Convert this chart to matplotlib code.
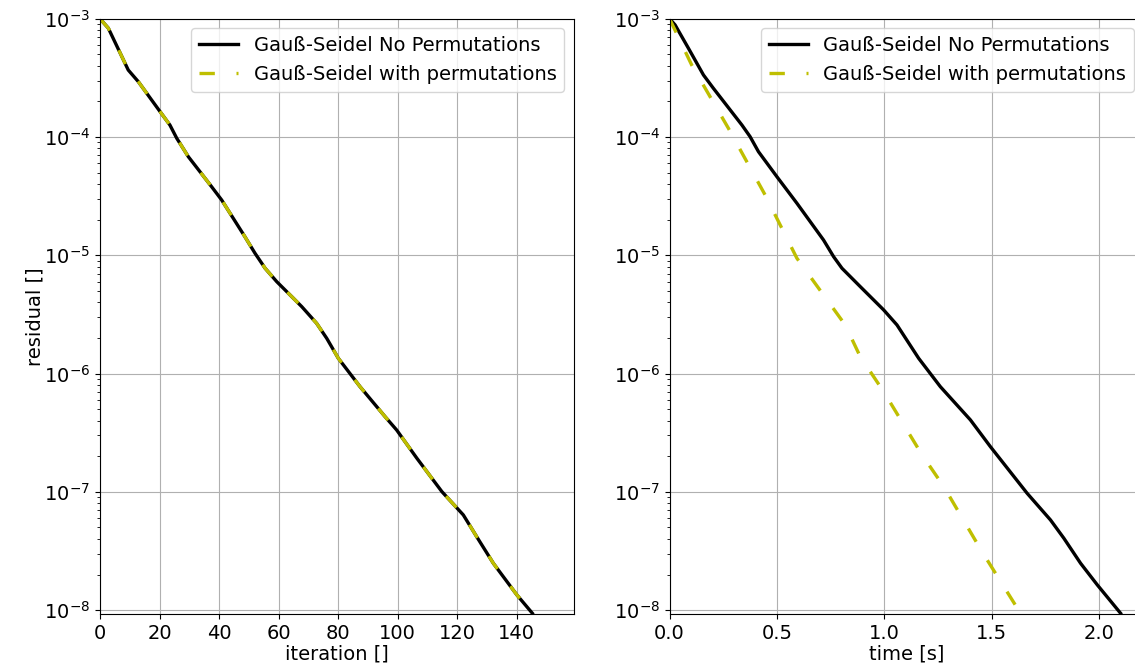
import matplotlib
matplotlib.use('Agg')
import matplotlib.pyplot as plt
import numpy as np

# iteration plot (both runs give the same residual per iteration)
iters = [0, 2.8, 9.5, 12.9, 20.2, 23.5, 25.8, 29.7, 37.5, 40.9, 48.7, 52.1,
         55.5, 59.4, 67.8, 72.8, 76.2, 80.1, 87.4, 95.8, 99.7, 106.5, 114.9,
         122.1, 126.6, 132.2, 140.1, 145.3]
log_res_it = [-3.0, -3.08, -3.434, -3.533, -3.786, -3.899, -4.011, -4.167,
              -4.420, -4.533, -4.843, -4.983, -5.110, -5.223, -5.434, -5.575,
              -5.702, -5.871, -6.111, -6.364, -6.477, -6.716, -6.998, -7.195,
              -7.379, -7.604, -7.871, -8.026]
log_res_it_perm = list(log_res_it)

# time plot
t_noperm = [0, 0.026, 0.088, 0.158, 0.204, 0.337, 0.375, 0.414, 0.5, 0.593,
            0.717, 0.764, 0.803, 0.888, 0.997, 1.059, 1.160, 1.261, 1.401,
            1.494, 1.665, 1.774, 1.836, 1.914, 1.992, 2.100]
log_res_t_noperm = [-3.0, -3.053, -3.25, -3.476, -3.588, -3.899, -3.997,
                    -4.124, -4.336, -4.560, -4.871, -5.012, -5.110, -5.265,
                    -5.462, -5.589, -5.871, -6.111, -6.392, -6.618, -7.012,
                    -7.238, -7.392, -7.604, -7.787, -8.026]
t_perm = [0, 0.103, 0.274, 0.445, 0.593, 0.818, 0.888, 0.997, 1.176, 1.277,
          1.455, 1.634]
log_res_t_perm = [-3.0, -3.391, -3.926, -4.490, -5.025, -5.589, -5.857,
                  -6.153, -6.688, -6.956, -7.506, -8.026]

labels = ['Gauß-Seidel No Permutations', 'Gauß-Seidel with permutations']
fs = 14

fig = plt.figure(figsize=(11.35, 6.63), dpi=100)
ax1 = fig.add_axes([0.0881, 0.0735, 0.4176, 0.8983])
ax2 = fig.add_axes([0.5899, 0.0735, 0.4176, 0.8983])

dash = (0, (4.6, 6.5))

ax1.plot(iters, 10**np.array(log_res_it), color='k', lw=2.4, label=labels[0])
ax1.plot(iters, 10**np.array(log_res_it_perm), color='y', lw=2.4,
         linestyle=dash, label=labels[1])
ax2.plot(t_noperm, 10**np.array(log_res_t_noperm), color='k', lw=2.4,
         label=labels[0])
ax2.plot(t_perm, 10**np.array(log_res_t_perm), color='y', lw=2.4,
         linestyle=dash, label=labels[1])

for ax in (ax1, ax2):
    ax.set_yscale('log')
    ax.set_ylim(10**-8.035, 1e-3)
    ax.grid(True)
    ax.tick_params(labelsize=fs)
    ax.legend(loc='upper right', fontsize=fs)

ax1.set_xlim(0, 159.3)
ax2.set_xlim(0, 2.207)
ax1.set_xticks(np.arange(0, 141, 20))
ax1.set_xlabel('iteration []', fontsize=fs, labelpad=1)
ax2.set_xlabel('time [s]', fontsize=fs, labelpad=1)
ax1.set_ylabel('residual []', fontsize=fs, labelpad=0)

fig.savefig('out.png', dpi=100)
